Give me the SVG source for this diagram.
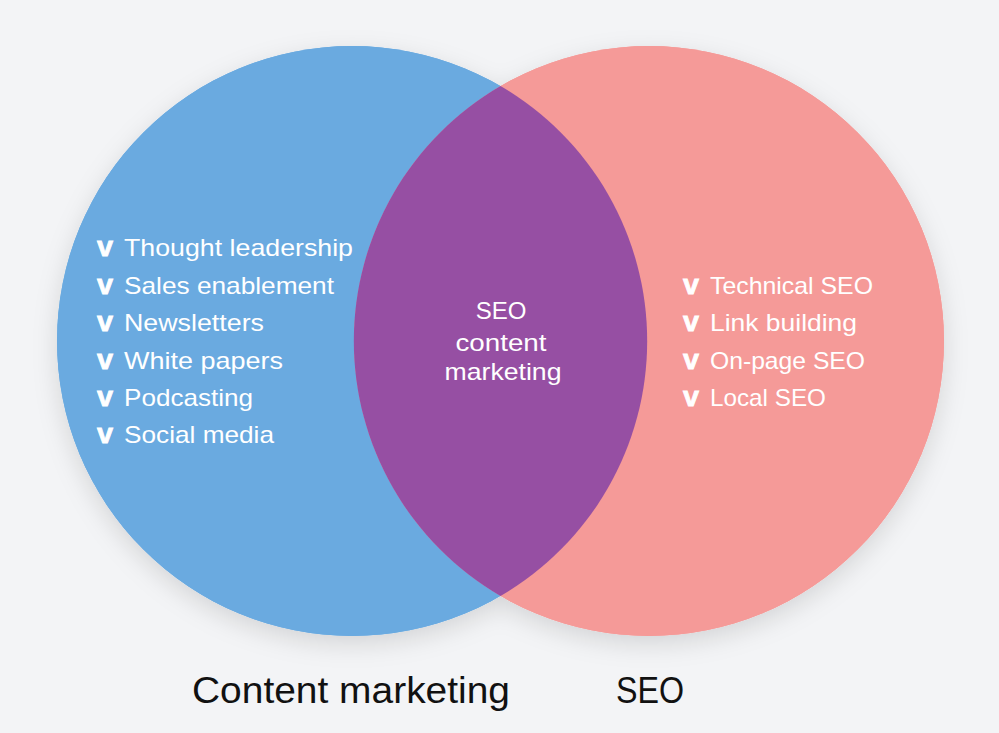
<svg xmlns="http://www.w3.org/2000/svg" width="999" height="733" viewBox="0 0 999 733">
  <style>
    .item { font-family: "Liberation Sans", Arial, sans-serif; font-size: 24px; fill: #ffffff; }
    .chk { font-family: "Liberation Sans", Arial, sans-serif; font-size: 28px; font-weight: bold; fill: #ffffff; stroke: #ffffff; stroke-width: 0.8px; }
    .mid { font-family: "Liberation Sans", Arial, sans-serif; font-size: 24px; fill: #ffffff; text-anchor: middle; }
    .label { font-family: "Liberation Sans", Arial, sans-serif; font-size: 37px; fill: #111111; }
  </style>
  <defs>
    <filter id="shadow" x="-20%" y="-20%" width="140%" height="140%">
      <feDropShadow dx="0" dy="8" stdDeviation="12" flood-color="#000000" flood-opacity="0.13"/>
    </filter>
  </defs>
  <rect width="999" height="733" fill="#f3f4f6"/>

  <g id="shadows" filter="url(#shadow)">
    <circle cx="352" cy="341" r="295" fill="#6aaae0"/>
    <circle cx="649" cy="341" r="295" fill="#f59a98"/>
  </g>

  <g id="content-marketing">
    <circle cx="352" cy="341" r="295" fill="#6aaae0"/>
  </g>
  <g id="seo">
    <circle cx="649" cy="341" r="295" fill="#f59a98"/>
  </g>
  <g id="overlap">
    <path d="M500.5,86 A295,295 0 0,0 500.5,596 A295,295 0 0,0 500.5,86 Z" fill="#964fa3"/>
  </g>

  <g id="left-list">
    <text class="chk" x="97" y="256" textLength="16" lengthAdjust="spacingAndGlyphs">v</text>
    <text class="item" x="124" y="256" textLength="229" lengthAdjust="spacingAndGlyphs">Thought leadership</text>
    <text class="chk" x="97" y="293.5" textLength="16" lengthAdjust="spacingAndGlyphs">v</text>
    <text class="item" x="124" y="293.5" textLength="210" lengthAdjust="spacingAndGlyphs">Sales enablement</text>
    <text class="chk" x="97" y="331" textLength="16" lengthAdjust="spacingAndGlyphs">v</text>
    <text class="item" x="124" y="331" textLength="140" lengthAdjust="spacingAndGlyphs">Newsletters</text>
    <text class="chk" x="97" y="368.5" textLength="16" lengthAdjust="spacingAndGlyphs">v</text>
    <text class="item" x="124" y="368.5" textLength="159" lengthAdjust="spacingAndGlyphs">White papers</text>
    <text class="chk" x="97" y="406" textLength="16" lengthAdjust="spacingAndGlyphs">v</text>
    <text class="item" x="124" y="406" textLength="129" lengthAdjust="spacingAndGlyphs">Podcasting</text>
    <text class="chk" x="97" y="443" textLength="16" lengthAdjust="spacingAndGlyphs">v</text>
    <text class="item" x="124" y="443" textLength="150" lengthAdjust="spacingAndGlyphs">Social media</text>
  </g>

  <g id="right-list">
    <text class="chk" x="683" y="293.5" textLength="16" lengthAdjust="spacingAndGlyphs">v</text>
    <text class="item" x="710" y="293.5" textLength="163" lengthAdjust="spacingAndGlyphs">Technical SEO</text>
    <text class="chk" x="683" y="331" textLength="16" lengthAdjust="spacingAndGlyphs">v</text>
    <text class="item" x="710" y="331" textLength="147" lengthAdjust="spacingAndGlyphs">Link building</text>
    <text class="chk" x="683" y="368.5" textLength="16" lengthAdjust="spacingAndGlyphs">v</text>
    <text class="item" x="710" y="368.5" textLength="155" lengthAdjust="spacingAndGlyphs">On-page SEO</text>
    <text class="chk" x="683" y="406" textLength="16" lengthAdjust="spacingAndGlyphs">v</text>
    <text class="item" x="710" y="406" textLength="116" lengthAdjust="spacingAndGlyphs">Local SEO</text>
  </g>

  <g id="overlap-label">
    <text class="mid" x="501" y="319">SEO</text>
    <text class="mid" x="501" y="351" textLength="91" lengthAdjust="spacingAndGlyphs">content</text>
    <text class="mid" x="503" y="380" textLength="117" lengthAdjust="spacingAndGlyphs">marketing</text>
  </g>

  <g id="labels">
    <text class="label" x="192" y="703" textLength="318" lengthAdjust="spacingAndGlyphs">Content marketing</text>
    <text class="label" x="616" y="703" textLength="68" lengthAdjust="spacingAndGlyphs">SEO</text>
  </g>
</svg>
